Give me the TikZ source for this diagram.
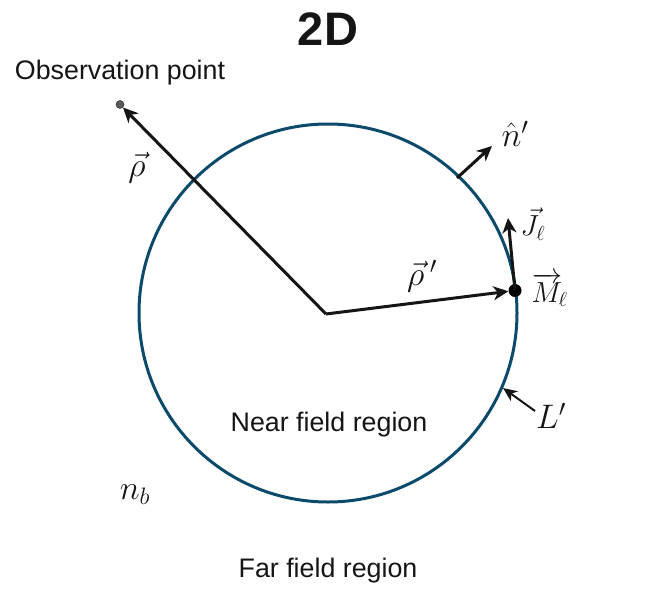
\documentclass[tikz,border=0pt]{standalone}
\usepackage{fix-cm}
\usepackage{fontspec}
\setmainfont{Liberation Sans}
\usetikzlibrary{arrows.meta}
\definecolor{circ}{HTML}{0B4A6B}
\definecolor{ink}{HTML}{151515}
\tikzset{
  px/.style={x=1pt,y=-1pt},
  vecline/.style={draw=ink,line width=3pt,-{Stealth[length=15pt,width=14pt,inset=4.5pt]}},
  thinline/.style={draw=ink,line width=2pt,-{Stealth[length=14pt,width=12pt,inset=4pt]}},
  lab/.style={font=\fontsize{26.8}{32}\selectfont,text=ink,inner sep=0pt,anchor=center},
  mathlab/.style={font=\fontsize{34}{40}\selectfont,text=ink,inner sep=0pt,anchor=center},
  smallmath/.style={font=\fontsize{29}{34}\selectfont,text=ink,inner sep=0pt,anchor=center},
}
\begin{document}
\begin{tikzpicture}[px]
\useasboundingbox (0,0) rectangle (671,591);
\node[draw=circ,line width=3pt,circle,minimum size=378pt,inner sep=0pt] (ring) at (328,313) {};
\coordinate (center) at (326,314);
\node[circle,fill=black,minimum size=13pt,inner sep=0pt] (source) at (515,290.5) {};
\node[circle,fill=black!65,draw=black!80,line width=0.5pt,minimum size=8pt,inner sep=0pt] (obs) at (120,104.5) {};
\coordinate (ntail) at (457,178);
\coordinate (nhead) at (492,146);
\coordinate (jhead) at (508,218);
\coordinate (ltail) at (535,411);
\coordinate (lhead) at (503,388);
\draw[vecline] (center) -- (obs);
\draw[vecline] (center) -- (source);
\draw[vecline] (ntail) -- (nhead);
\draw[vecline] (source.center) -- (jhead);
\draw[thinline] (ltail) -- (lhead);
\node[font=\bfseries\fontsize{47}{54}\selectfont,text=ink,inner sep=0pt] (title) at (328,29.5) {2D};
\node[lab] (obstext) at (120,72.5) {Observation point};
\node[lab] (near) at (329,424.5) {Near field region};
\node[lab] (far) at (328,570.5) {Far field region};
\node[mathlab] (rho) at (137,168) {$\vec{\rho}$};
\node[mathlab] (rhop) at (422,276) {$\vec{\rho}\,'$};
\node[mathlab] (nhat) at (515,134) {$\hat{n}'$};
\node[smallmath] (jl) at (533,224) {$\vec{J}_{\ell}$};
\node[smallmath] (ml) at (549.5,290) {$\overrightarrow{M}_{\!\ell}$};
\node[mathlab] (lp) at (551,416) {$L'$};
\node[mathlab] (nb) at (135,495) {$n_b$};
\end{tikzpicture}
\end{document}
